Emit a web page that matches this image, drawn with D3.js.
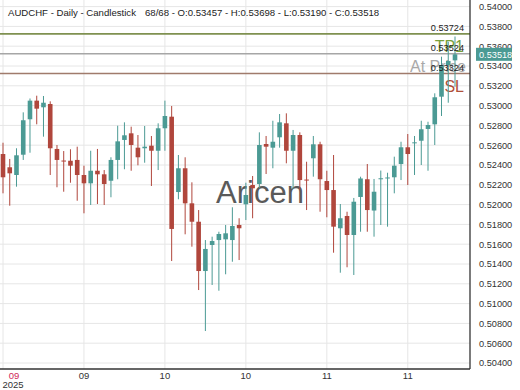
<!DOCTYPE html>
<html>
<head>
<meta charset="utf-8">
<script src="https://cdn.jsdelivr.net/npm/d3@7"></script>
<style>
  body { margin: 0; background: #fff; }
  svg { display: block; font-family: 'Liberation Sans', Arial, sans-serif; }
</style>
</head>
<body>
<svg width="520" height="390"></svg>
<script>
// candle values (68 daily candles)
const opens = [0.52511, 0.52377, 0.52299, 0.52504, 0.52862, 0.53050, 0.52983, 0.53016, 0.52562, 0.52445,
  0.52443, 0.52451, 0.52299, 0.52215, 0.52342, 0.52306, 0.52241, 0.52451, 0.52653, 0.52720,
  0.52575, 0.52569, 0.52595, 0.52544, 0.52771, 0.52888, 0.52127, 0.52367, 0.52013, 0.51827,
  0.51329, 0.51592, 0.51642, 0.51649, 0.51642, 0.51794, 0.52003, 0.52198, 0.52208, 0.52612,
  0.52575, 0.52680, 0.52821, 0.52544, 0.52703, 0.52253, 0.52468, 0.52609, 0.52238, 0.52147,
  0.51761, 0.51885, 0.51693, 0.52077, 0.52256, 0.51940, 0.52261, 0.52269, 0.52276, 0.52410,
  0.52579, 0.52622, 0.52645, 0.52764, 0.52811, 0.53090, 0.53410, 0.53457];
const highs = [0.52625, 0.52461, 0.52569, 0.52932, 0.53072, 0.53100, 0.53097, 0.53043, 0.52602, 0.52541,
  0.52559, 0.52585, 0.52393, 0.52544, 0.52562, 0.52349, 0.52478, 0.52797, 0.52831, 0.52787,
  0.52703, 0.52794, 0.52693, 0.52821, 0.53050, 0.52996, 0.52501, 0.52478, 0.52225, 0.51945,
  0.51642, 0.51676, 0.51726, 0.51794, 0.51973, 0.51862, 0.52221, 0.52289, 0.52730, 0.52693,
  0.52847, 0.52915, 0.52922, 0.52754, 0.52730, 0.52433, 0.52693, 0.52635, 0.52342, 0.52501,
  0.52006, 0.51928, 0.52067, 0.52282, 0.52410, 0.52259, 0.52344, 0.52322, 0.52484, 0.52635,
  0.52713, 0.52693, 0.52847, 0.52837, 0.53124, 0.53494, 0.53645, 0.53698];
const lows = [0.52114, 0.51989, 0.52181, 0.52451, 0.52524, 0.52811, 0.52686, 0.52299, 0.52175, 0.52130,
  0.52221, 0.52039, 0.51912, 0.51996, 0.52006, 0.51996, 0.52074, 0.52256, 0.52357, 0.52342,
  0.52397, 0.52423, 0.52188, 0.52349, 0.52544, 0.51430, 0.52054, 0.51700, 0.51575, 0.51137,
  0.50723, 0.51188, 0.51130, 0.51296, 0.51423, 0.51440, 0.51844, 0.51862, 0.52165, 0.52309,
  0.52367, 0.52575, 0.52417, 0.52158, 0.52147, 0.51945, 0.52282, 0.51928, 0.51872, 0.51514,
  0.51312, 0.51367, 0.51289, 0.51726, 0.51726, 0.51676, 0.51794, 0.51777, 0.52114, 0.52248,
  0.52198, 0.52299, 0.52400, 0.52342, 0.52602, 0.52895, 0.53029, 0.53190];
const closes = [0.52276, 0.52316, 0.52498, 0.52852, 0.53050, 0.52969, 0.53029, 0.52569, 0.52451, 0.52440,
  0.52393, 0.52299, 0.52215, 0.52342, 0.52306, 0.52208, 0.52451, 0.52639, 0.52700, 0.52602,
  0.52478, 0.52585, 0.52544, 0.52771, 0.52895, 0.51754, 0.52367, 0.52013, 0.51827, 0.51329,
  0.51552, 0.51632, 0.51703, 0.51710, 0.51784, 0.51761, 0.52097, 0.52165, 0.52602, 0.52585,
  0.52635, 0.52831, 0.52544, 0.52703, 0.52248, 0.52248, 0.52609, 0.52256, 0.52147, 0.51777,
  0.51862, 0.51693, 0.52029, 0.52264, 0.51945, 0.52130, 0.52266, 0.52274, 0.52393, 0.52579,
  0.52511, 0.52629, 0.52761, 0.52804, 0.53084, 0.53410, 0.53451, 0.53518];

// month ticks on the x axis (candle index + label)
const xTickIndex = [0, 12, 24, 36, 48, 60];
const xTickLabels = ['09', '09', '10', '10', '11', '11'];
const yearLabel = '2025';

// price ticks on the y axis
const yTicks = d3.range(0.504, 0.5401, 0.002);

// trade levels drawn across the chart
const levelNames = ['TP1', 'At Price', 'SL'];
const levelValues = [0.53724, 0.53524, 0.53324];

const symbol = 'AUDCHF';
const period = 'Daily';
const chartType = 'Candlestick';

const svg = d3.select('svg');
const fmt = d3.format('.5f');
const n = closes.length;

const plotRight = 470;
const plotBottom = 369;

// Create scales for index and price
const scaleX = d3.scalePoint()
  .domain(d3.range(n))
  .range([3, 455]);

const scaleY = d3.scaleLinear()
  .domain([0.504, 0.540])
  .range([363, 6.6]);

// clip the plot area
svg.append('defs')
  .append('clipPath')
  .attr('id', 'plot')
  .append('rect')
  .attr('width', plotRight)
  .attr('height', plotBottom);

// Horizontal grid lines
svg.append('g')
  .selectAll('line')
  .data(yTicks)
  .join('line')
  .attr('x1', 0)
  .attr('x2', plotRight)
  .attr('y1', d => scaleY(d))
  .attr('y2', d => scaleY(d))
  .attr('stroke', '#e6e6e6')
  .attr('stroke-width', 1);

// Vertical grid lines
svg.append('g')
  .selectAll('line')
  .data(xTickIndex)
  .join('line')
  .attr('x1', d => scaleX(d))
  .attr('x2', d => scaleX(d))
  .attr('y1', 0)
  .attr('y2', plotBottom)
  .attr('stroke', '#e6e6e6')
  .attr('stroke-width', 1);

// Watermark
svg.append('text')
  .attr('x', 260)
  .attr('y', 203)
  .attr('text-anchor', 'middle')
  .attr('font-size', 31)
  .attr('fill', '#5a5a5a')
  .text('Aricen');

const plot = svg.append('g').attr('clip-path', 'url(#plot)');

// Level lines
const levelColors = ['#7f9150', '#a6a6a6', '#a07b6c'];
const levelTextColors = ['#79a03c', '#9a9a9a', '#b0503a'];

plot.append('g')
  .selectAll('line')
  .data(levelValues)
  .join('line')
  .attr('x1', 0)
  .attr('x2', plotRight)
  .attr('y1', d => scaleY(d))
  .attr('y2', d => scaleY(d))
  .attr('stroke', (d, i) => levelColors[i])
  .attr('stroke-width', 1.6);

// Big level names under each line
plot.append('g')
  .selectAll('text')
  .data(levelValues)
  .join('text')
  .attr('x', (d, i) => i === 1 ? 410 : 464)
  .attr('y', d => scaleY(d) + 18)
  .attr('text-anchor', (d, i) => i === 1 ? 'start' : 'end')
  .attr('font-size', 16)
  .attr('fill', (d, i) => levelTextColors[i])
  .attr('opacity', (d, i) => i === 1 ? 0.85 : 1)
  .text((d, i) => levelNames[i]);

// Candles
const candles = plot.append('g')
  .selectAll('g.candle')
  .data(d3.range(n))
  .join('g')
  .attr('class', 'candle')
  .attr('transform', i => `translate(${scaleX(i)}, 0)`);

const candleColor = i => closes[i] >= opens[i] ? '#4b9a94' : '#b0463c';

candles.append('line')
  .attr('y1', i => scaleY(highs[i]))
  .attr('y2', i => scaleY(lows[i]))
  .attr('stroke', candleColor)
  .attr('stroke-width', 1);

candles.append('rect')
  .attr('x', -2.3)
  .attr('width', 4.6)
  .attr('y', i => scaleY(Math.max(opens[i], closes[i])))
  .attr('height', i => Math.max(1, Math.abs(scaleY(opens[i]) - scaleY(closes[i]))))
  .attr('fill', candleColor);

// Level values above each line
plot.append('g')
  .selectAll('text')
  .data(levelValues)
  .join('text')
  .attr('x', 464)
  .attr('y', d => scaleY(d) - 2.5)
  .attr('text-anchor', 'end')
  .attr('font-size', 9.2)
  .attr('fill', '#222')
  .text(d => fmt(d));

// Y axis
const axisY = d3.axisRight(scaleY)
  .tickValues(yTicks)
  .tickFormat(fmt)
  .tickSize(0)
  .tickPadding(9);

svg.append('g')
  .attr('transform', `translate(${plotRight}, 0)`)
  .call(axisY)
  .call(g => g.select('.domain').remove())
  .selectAll('text')
  .attr('font-family', "'Liberation Sans', Arial, sans-serif")
  .attr('font-size', 9.2)
  .attr('fill', '#333');

// Last price tag
const lastY = scaleY(closes[n - 1]);
svg.append('rect')
  .attr('x', 476)
  .attr('y', lastY - 6.5)
  .attr('width', 36)
  .attr('height', 13)
  .attr('fill', '#4b9a94');

svg.append('text')
  .attr('x', 479)
  .attr('y', lastY + 3.3)
  .attr('font-size', 9.2)
  .attr('fill', '#fff')
  .text(fmt(closes[n - 1]));

// Axis lines
svg.append('line')
  .attr('x1', plotRight).attr('x2', plotRight)
  .attr('y1', 0).attr('y2', plotBottom)
  .attr('stroke', '#333').attr('stroke-width', 1.3);

svg.append('line')
  .attr('x1', 0).attr('x2', plotRight)
  .attr('y1', plotBottom).attr('y2', plotBottom)
  .attr('stroke', '#333').attr('stroke-width', 1.3);

// X axis labels
svg.append('g')
  .selectAll('text')
  .data(xTickIndex)
  .join('text')
  .attr('x', (d, i) => i === 0 ? scaleX(d) + 11 : scaleX(d))
  .attr('y', 379)
  .attr('text-anchor', 'middle')
  .attr('font-size', 9.5)
  .attr('fill', (d, i) => i === 0 ? '#d0285a' : '#333')
  .text((d, i) => xTickLabels[i]);

svg.append('text')
  .attr('x', scaleX(0) + 10)
  .attr('y', 388)
  .attr('text-anchor', 'middle')
  .attr('font-size', 9.5)
  .attr('fill', '#333')
  .text(yearLabel);

// Title
svg.append('text')
  .attr('x', 8)
  .attr('y', 16)
  .attr('font-size', 9.6)
  .attr('fill', '#222')
  .text(`${symbol} - ${period} - ${chartType}`);

svg.append('text')
  .attr('x', 145)
  .attr('y', 16)
  .attr('font-size', 9.6)
  .attr('fill', '#222')
  .text(`${n}/${n} - O:${fmt(opens[n - 1])} - H:${fmt(highs[n - 1])} - L:${fmt(lows[n - 1])} - C:${fmt(closes[n - 1])}`);
</script>
</body>
</html>
